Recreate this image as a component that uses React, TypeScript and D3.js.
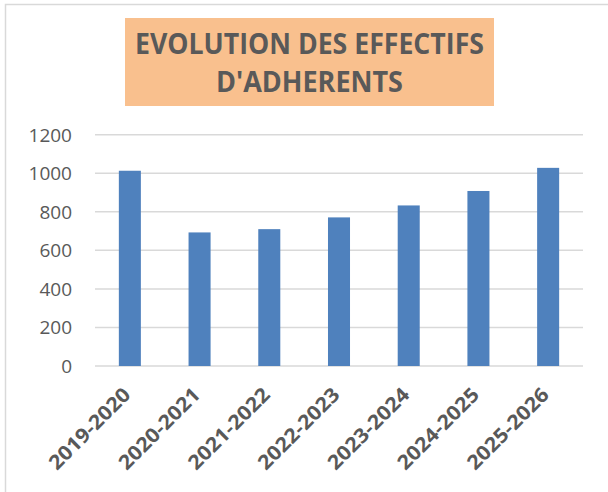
import React from "react";
import * as d3 from "d3";

const categories: string[] = ["2019-2020", "2020-2021", "2021-2022", "2022-2023", "2023-2024", "2024-2025", "2025-2026"];
const values: number[] = [1013, 693, 710, 771, 833, 908, 1028];
const yTicks: number[] = [0, 200, 400, 600, 800, 1000, 1200];
const titleLines: string[] = ["EVOLUTION DES EFFECTIFS", "D'ADHERENTS"];

const W = 608;
const H = 492;

export default function App() {
  const x = d3.scaleBand<string>().domain(categories).range([95, 583]).paddingInner(0.684).paddingOuter(0.342);
  const y = d3.scaleLinear().domain([0, 1200]).range([366, 134.7]);
  const grey = "#595959";
  return (
    <svg width={W} height={H} style={{ position: "absolute", left: 0, top: 0, background: "#fff" }}>
      <rect x={5.5} y={4.5} width={W + 20} height={H + 20} fill="#fff" stroke="#d9d9d9" strokeWidth={1.5} />
      <rect x={125} y={18} width={369} height={88} fill="#F9C08E" />
      {titleLines.map((t, i) => (
        <text
          key={t}
          x={309.5}
          y={i === 0 ? 54 : 92}
          textAnchor="middle"
          fontFamily="'Open Sans', sans-serif"
          fontWeight="bold"
          fontSize={28}
          fill={grey}
          textLength={i === 0 ? 349 : 187}
          lengthAdjust="spacingAndGlyphs"
        >
          {t}
        </text>
      ))}
      {yTicks.map((t) => (
        <g key={t}>
          <line x1={95} x2={583} y1={y(t)} y2={y(t)} stroke="#d9d9d9" strokeWidth={1.5} />
          <text x={72} y={y(t)} dy="0.36em" textAnchor="end" fontFamily="'Open Sans', sans-serif" fontSize={19} fill={grey}>
            {t}
          </text>
        </g>
      ))}
      {categories.map((c, i) => (
        <rect key={c} x={x(c)} y={y(values[i])} width={x.bandwidth()} height={y(0) - y(values[i])} fill="#4F81BD" />
      ))}
      {categories.map((c) => {
        const cx = (x(c) as number) + x.bandwidth() / 2;
        return (
          <text
            key={c}
            transform={`translate(${cx + 2},${396}) rotate(-45)`}
            textAnchor="end"
            fontFamily="'Open Sans', sans-serif"
            fontWeight="bold"
            fontSize={20}
            fill={grey}
            textLength={106}
            lengthAdjust="spacingAndGlyphs"
          >
            {c}
          </text>
        );
      })}
    </svg>
  );
}
